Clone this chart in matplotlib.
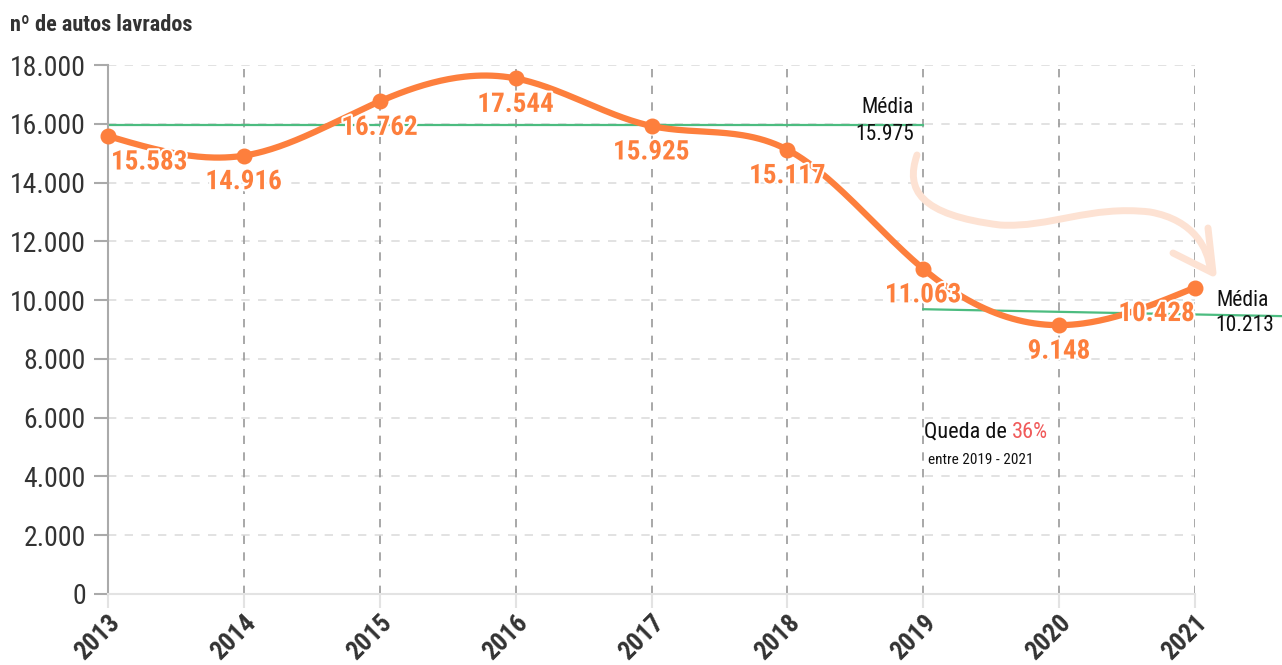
import numpy as np
import matplotlib
matplotlib.use("Agg")
from matplotlib import pyplot as plt
from matplotlib.path import Path
from matplotlib.patches import PathPatch
import matplotlib.patheffects as pe

plt.rcParams['font.family'] = ['Roboto Condensed', 'Roboto', 'DejaVu Sans']

years = [2013, 2014, 2015, 2016, 2017, 2018, 2019, 2020, 2021]
autos = [15583, 14916, 16762, 17544, 15925, 15117, 11063, 9148, 10428]
labels = ["15.583", "14.916", "16.762", "17.544", "15.925", "15.117", "11.063", "9.148", "10.428"]
yticks = [0, 2000, 4000, 6000, 8000, 10000, 12000, 14000, 16000, 18000]
ytick_labels = ["0", "2.000", "4.000", "6.000", "8.000", "10.000", "12.000", "14.000", "16.000", "18.000"]
media_1 = 15975
media_2 = 10213

ORANGE = '#fd7f3d'
GREEN = '#4cbc80'
DARK = '#333333'


def natural_spline(x, y, n=400):
    # natural cubic spline through the points
    x = np.asarray(x, float)
    y = np.asarray(y, float)
    k = len(x)
    h = np.diff(x)
    A = np.zeros((k, k))
    b = np.zeros(k)
    A[0, 0] = 1
    A[-1, -1] = 1
    for i in range(1, k - 1):
        A[i, i - 1] = h[i - 1]
        A[i, i] = 2 * (h[i - 1] + h[i])
        A[i, i + 1] = h[i]
        b[i] = 3 * ((y[i + 1] - y[i]) / h[i] - (y[i] - y[i - 1]) / h[i - 1])
    c = np.linalg.solve(A, b)
    xs = np.linspace(x[0], x[-1], n)
    ys = np.zeros_like(xs)
    for j, xv in enumerate(xs):
        i = min(np.searchsorted(x, xv, side='right') - 1, k - 2)
        dx = xv - x[i]
        bi = (y[i + 1] - y[i]) / h[i] - h[i] * (2 * c[i] + c[i + 1]) / 3
        di = (c[i + 1] - c[i]) / (3 * h[i])
        ys[j] = y[i] + bi * dx + c[i] * dx ** 2 + di * dx ** 3
    return xs, ys


fig = plt.figure(figsize=(12.82, 6.65), dpi=100)
ax = fig.add_axes([108 / 1282, 1 - 594 / 665, (1195 - 108) / 1282, (594 - 65) / 665])
ax.set_xlim(2013, 2021)
ax.set_ylim(0, 18000)

# grid
for yv in yticks[1:]:
    ax.axhline(yv, color='#dddddd', lw=1.2, ls=(0, (5, 5)), zorder=0)
for xv in years[1:]:
    ax.axvline(xv, color='#999999', lw=1.2, ls=(0, (5, 5)), zorder=0)

for s in ['top', 'right']:
    ax.spines[s].set_visible(False)
ax.spines['left'].set_color('#aaaaaa')
ax.spines['left'].set_linewidth(1.5)
ax.spines['bottom'].set_color('#e3e3e3')
ax.spines['bottom'].set_linewidth(1.5)

ax.set_yticks(yticks)
ax.set_yticklabels(ytick_labels, fontsize=20, color=DARK)
ax.tick_params(axis='y', length=10, width=1.5, color='#aaaaaa', pad=6)
ax.set_xticks(years)
ax.set_xticklabels([str(y) for y in years], fontsize=18.5, fontweight='bold', color=DARK,
                   rotation=45, ha='right', rotation_mode='anchor')
ax.tick_params(axis='x', length=10, width=1.5, color='#e3e3e3', pad=2)

# mean lines
ax.plot([2013, 2019], [media_1, media_1], color=GREEN, lw=1.6, zorder=2)
ax.plot([2019, 2021.64], [9690, 9455], color=GREEN, lw=1.6, zorder=2, clip_on=False)

# curve
xs, ys = natural_spline(years, autos)
ax.plot(xs, ys, color=ORANGE, lw=4.5, zorder=3, clip_on=False, solid_capstyle='round')
ax.scatter(years, autos, s=110, color=ORANGE, zorder=4, clip_on=False)

halo = [pe.withStroke(linewidth=3, foreground='white')]
for i, (x, y, lab) in enumerate(zip(years, autos, labels)):
    ha = 'center'
    dx = 0
    if i == 0:
        ha = 'left'
        dx = 3
    elif i == len(years) - 1:
        ha = 'right'
    ax.annotate(lab, (x, y), xytext=(dx, -26), textcoords='offset pixels', ha=ha, va='center',
                fontsize=19.5, fontweight='bold', color=ORANGE, zorder=5, path_effects=halo,
                annotation_clip=False)

# mean annotations
ax.text(2018.93, 16550, "Média", ha='right', va='center', fontsize=15.5, color='#111111')
ax.text(2018.93, 15620, "15.975", ha='right', va='center', fontsize=15.5, color='#111111')
ax.text(2021.16, 10000, "Média", ha='left', va='center', fontsize=15.5, color='#111111', clip_on=False)
ax.text(2021.15, 9150, "10.213", ha='left', va='center', fontsize=15.5, color='#111111', clip_on=False)

# drop annotation
ax.text(2019.653, 5512, "Queda de ", ha='right', va='center', fontsize=16, color='#111111')
ax.text(2019.653, 5512, "36%", ha='left', va='center', fontsize=16, color='#f05a5a')
ax.text(2019.425, 4560, "entre 2019 - 2021", ha='center', va='center', fontsize=11, color='#111111')


# curved arrow, pixel positions converted into data space
def px(xp, yp):
    return (2013 + (xp - 108) / ((1195 - 108) / 8), (594 - yp) * 18000 / (594 - 65))


verts = [px(917, 155), px(905, 190), px(920, 215), px(1000, 225),
         px(1050, 228), px(1090, 205), px(1150, 212),
         px(1195, 220), px(1208, 250), px(1210, 268)]
codes = [Path.MOVETO] + [Path.CURVE4] * 9
ax.add_patch(PathPatch(Path(verts, codes), fill=False, ec='#fde2d3', lw=5,
                       capstyle='round', zorder=1, clip_on=False))
head = [px(1208, 228), px(1213, 273), px(1173, 253)]
ax.plot([p[0] for p in head], [p[1] for p in head], color='#fde2d3', lw=5,
        solid_capstyle='round', solid_joinstyle='round', zorder=1, clip_on=False)

fig.text(10 / 1282, 1 - 25 / 665, "nº de autos lavrados", fontsize=16, fontweight='bold',
         color=DARK, va='center', ha='left')

fig.savefig("out.png", dpi=100)
